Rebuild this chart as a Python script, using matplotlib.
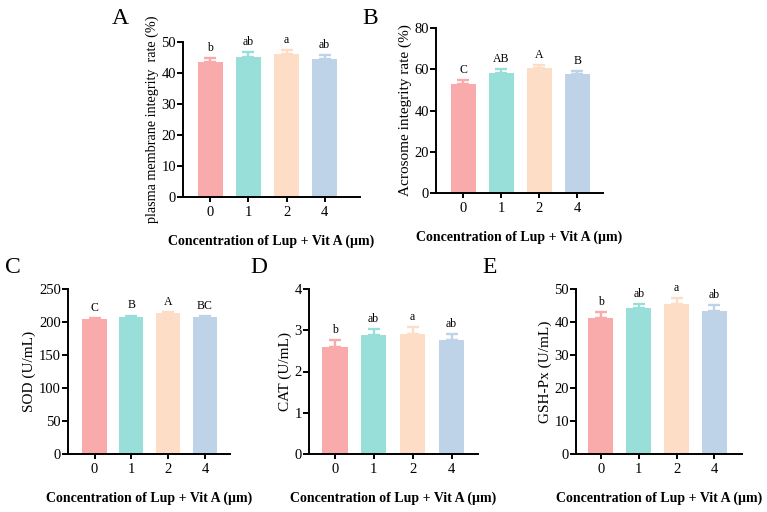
import numpy as np
import matplotlib.pyplot as plt

plt.rcParams['font.family'] = ['Liberation Serif', 'DejaVu Serif']

# data
groups = ["0", "1", "2", "4"]
colors = ["#F8ABAA", "#98DED9", "#FDDDC6", "#BED3E7"]

pm_mean = [43.4, 45.2, 46.1, 44.4]
pm_err = [1.3, 1.6, 1.2, 1.3]
pm_sig = ["b", "ab", "a", "ab"]

acr_mean = [52.9, 58.4, 60.5, 57.8]
acr_err = [1.9, 1.6, 1.6, 1.4]
acr_sig = ["C", "AB", "A", "B"]

sod_mean = [204.1, 208.0, 213.5, 207.0]
sod_err = [2.0, 1.8, 1.6, 1.8]
sod_sig = ["C", "B", "A", "BC"]

cat_mean = [2.60, 2.88, 2.91, 2.76]
cat_err = [0.16, 0.14, 0.16, 0.15]
cat_sig = ["b", "ab", "a", "ab"]

gsh_mean = [41.3, 44.1, 45.4, 43.4]
gsh_err = [1.7, 1.3, 1.8, 1.8]
gsh_sig = ["b", "ab", "a", "ab"]

W, H = 767, 512
fig = plt.figure(figsize=(W / 100, H / 100), dpi=100)


def panel(px, ylab, ylab_size, mean, err, sig, ymax, ystep, xlim, letter, letter_xy):
    l, r, t, b = px
    ax = fig.add_axes([l / W, 1 - b / H, (r - l) / W, (b - t) / H])
    x = np.arange(len(groups))
    ax.bar(x, mean, width=0.66, color=colors, zorder=2)
    for i in range(len(groups)):
        ax.errorbar(x[i], mean[i], yerr=[[0], [err[i]]], color=colors[i],
                    elinewidth=1.7, capsize=4.3, capthick=1.7, zorder=1)
        ax.annotate(sig[i], (x[i], mean[i] + err[i]), xytext=(0, 3),
                    textcoords="offset points", ha="center", va="bottom",
                    fontsize=8.5)
    ax.set_xlim(*xlim)
    ax.set_ylim(0, ymax)
    ax.set_yticks(np.arange(0, ymax + ystep / 2, ystep))
    ax.set_xticks(x)
    ax.set_xticklabels(groups)
    for s in ["top", "right"]:
        ax.spines[s].set_visible(False)
    for s in ["left", "bottom"]:
        ax.spines[s].set_linewidth(1.4)
    ax.tick_params(axis="both", labelsize=10.5, width=1.4, length=4, pad=1)
    ax.tick_params(axis="x", length=3.5, pad=3)
    ax.set_ylabel(ylab, fontsize=ylab_size, labelpad=2)
    ax.set_xlabel("Concentration of Lup + Vit A (µm)", fontsize=10,
                  fontweight="bold", labelpad=11)
    fig.text(letter_xy[0] / W, 1 - letter_xy[1] / H, letter, fontsize=17,
             ha="left", va="baseline")
    return ax


panel((183, 360, 42, 197), "plasma membrane integrity  rate (%)", 10.2, pm_mean, pm_err,
      pm_sig, 50, 10, (-0.72, 3.93), "A", (112, 24))
panel((436, 603, 28, 193), "Acrosome integrity rate (%)", 11, acr_mean, acr_err,
      acr_sig, 80, 20, (-0.72, 3.68), "B", (362, 24))
panel((68, 230, 289, 454), "SOD (U/mL)", 11, sod_mean, sod_err,
      sod_sig, 250, 50, (-0.72, 3.68), "C", (5, 273))
panel((309, 478, 289, 454), "CAT (U/mL)", 11, cat_mean, cat_err,
      cat_sig, 4, 1, (-0.66, 3.68), "D", (250, 273))
panel((576, 742, 289, 454), "GSH-Px (U/mL)", 11, gsh_mean, gsh_err,
      gsh_sig, 50, 10, (-0.66, 3.73), "E", (482, 273))

fig.savefig("out.png", dpi=100)
